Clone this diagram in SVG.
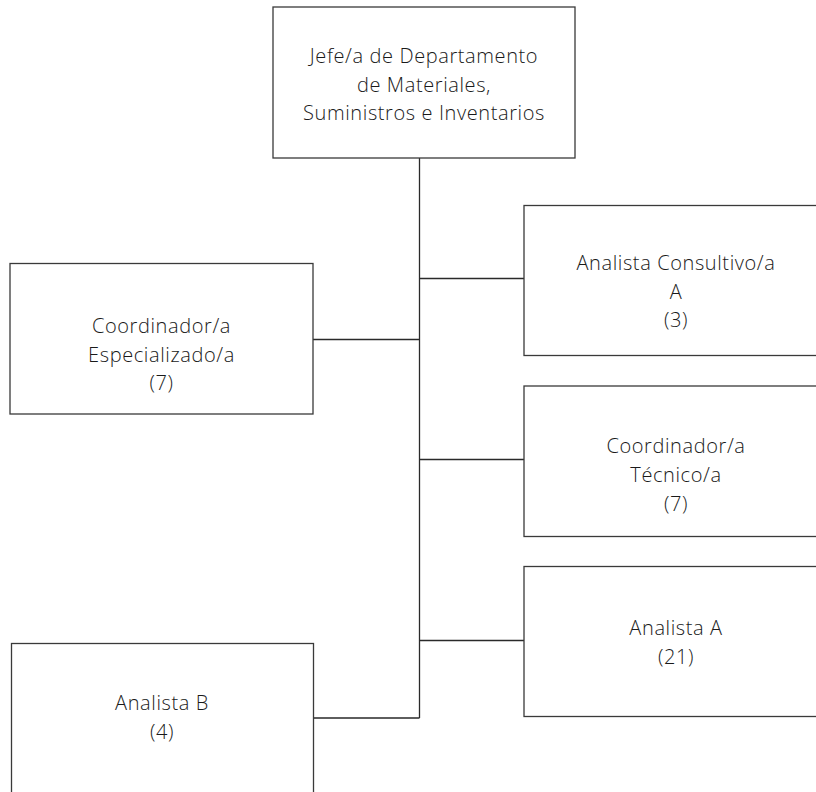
<svg xmlns="http://www.w3.org/2000/svg" width="816" height="792" viewBox="0 0 816 792">
<style>
.box{fill:#fff;stroke:#3a3a3a;stroke-width:1.3}
.conn{fill:none;stroke:#2a2a2a;stroke-width:1.3}
text{font-family:"Open Sans","Noto Sans",sans-serif;font-weight:300;font-size:20px;letter-spacing:0.6px;fill:#1a1a1a;text-anchor:middle}
</style>
<rect width="816" height="792" fill="#fff"/>
<g id="connectors">
<path class="conn" d="M419.5 158V718M419.5 278.5H524M313 339.5H419.5M419.5 459.5H524M419.5 640.5H524M313 718H419.5"/>
</g>
<g id="jefe">
<rect class="box" x="273" y="7" width="302" height="151"/>
<text x="424" y="63">Jefe/a de Departamento</text>
<text x="424" y="91.5">de Materiales,</text>
<text x="424" y="120">Suministros e Inventarios</text>
</g>
<g id="coord-especializado">
<rect class="box" x="10" y="263.5" width="303" height="150.5"/>
<text x="161.5" y="333">Coordinador/a</text>
<text x="161.5" y="361.5">Especializado/a</text>
<text x="161.5" y="390">(7)</text>
</g>
<g id="analista-consultivo">
<rect class="box" x="524" y="205.5" width="304" height="150"/>
<text x="676" y="270">Analista Consultivo/a</text>
<text x="676" y="298.5">A</text>
<text x="676" y="327">(3)</text>
</g>
<g id="coord-tecnico">
<rect class="box" x="524" y="386" width="304" height="150.5"/>
<text x="676" y="453">Coordinador/a</text>
<text x="676" y="482">Técnico/a</text>
<text x="676" y="511">(7)</text>
</g>
<g id="analista-a">
<rect class="box" x="524" y="566.5" width="304" height="150"/>
<text x="676" y="635">Analista A</text>
<text x="676" y="663.5">(21)</text>
</g>
<g id="analista-b">
<rect class="box" x="11.5" y="643.5" width="302" height="160"/>
<text x="162" y="710">Analista B</text>
<text x="162" y="738.5">(4)</text>
</g>
</svg>
